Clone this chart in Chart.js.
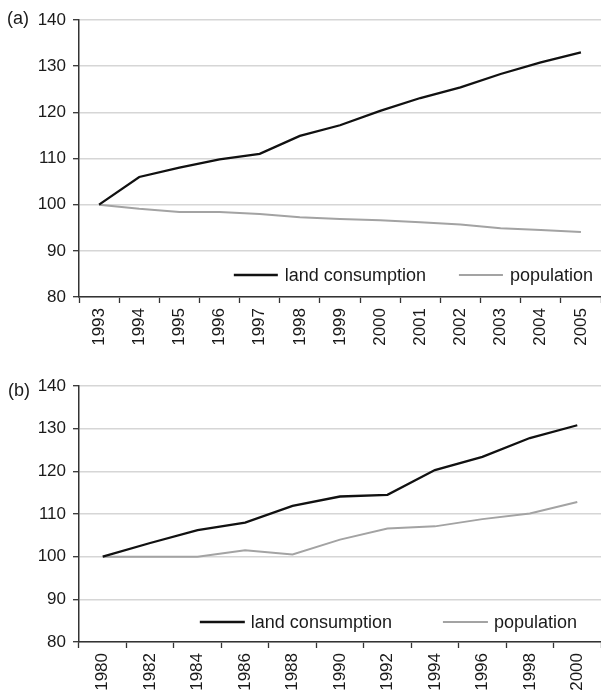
<!DOCTYPE html>
<html>
<head>
<meta charset="utf-8">
<script src="https://cdn.jsdelivr.net/npm/chart.js@4/dist/chart.umd.min.js"></script>
<style>
    html, body { margin: 0; padding: 0; background: #fff; }
    body { width: 601px; height: 695px; position: relative; overflow: hidden; font-family: 'Liberation Sans', Arial, sans-serif; }
    .panel { position: absolute; left: 0; width: 601px; height: 345px; }
    .tag { position: absolute; font-size: 18px; color: #1a1a1a; }
</style>
</head>
<body>
<div class="panel" style="top:0"><canvas id="chartA" width="601" height="345"></canvas></div>
<div class="panel" style="top:345px"><canvas id="chartB" width="601" height="345"></canvas></div>
<div class="tag" style="left:7px;top:8px">(a)</div>
<div class="tag" style="left:8px;top:380px">(b)</div>
<script>
// --- Data ---
const yearsA = ['1993', '1994', '1995', '1996', '1997', '1998', '1999', '2000', '2001', '2002', '2003', '2004', '2005'];
const landA = [100, 106, 108, 109.8, 111, 114.9, 117.2, 120.3, 123.1, 125.4, 128.3, 130.8, 133];
const popA = [100, 99.1, 98.4, 98.4, 98, 97.3, 96.9, 96.6, 96.2, 95.7, 94.9, 94.5, 94.1];

const yearsB = ['1980', '1982', '1984', '1986', '1988', '1990', '1992', '1994', '1996', '1998', '2000'];
const landB = [100, 103.2, 106.2, 108, 111.9, 114.1, 114.5, 120.3, 123.4, 127.8, 130.8];
const popB = [100, 100, 100, 101.5, 100.5, 104, 106.6, 107.1, 108.8, 110.1, 112.8];

const yTicks = { min: 80, max: 140, step: 10 };
const seriesNames = ['land consumption', 'population'];

const FONT = 'Liberation Sans';

// legend drawn inside the plot area, bottom right
const insideLegend = {
    id: 'insideLegend',
    afterDraw(chart, args, opts) {
        const ctx = chart.ctx;
        const area = chart.chartArea;
        ctx.save();
        ctx.font = '18px "' + FONT + '"';
        ctx.textBaseline = 'middle';
        const y = area.bottom - opts.bottomOffset;
        const items = chart.data.datasets.map(ds => ({
            ds, w: ctx.measureText(ds.label).width
        }));
        let total = 0;
        items.forEach((it, i) => {
            total += opts.lineLen + opts.textGap + it.w;
            if (i < items.length - 1) total += opts.itemGap;
        });
        let x = opts.right - total;
        items.forEach(it => {
            ctx.strokeStyle = it.ds.borderColor;
            ctx.lineWidth = it.ds.borderWidth;
            ctx.beginPath();
            ctx.moveTo(x, y);
            ctx.lineTo(x + opts.lineLen, y);
            ctx.stroke();
            x += opts.lineLen + opts.textGap;
            ctx.fillStyle = '#1a1a1a';
            ctx.textAlign = 'left';
            ctx.fillText(it.ds.label, x, y + 1);
            x += it.w + opts.itemGap;
        });
        ctx.restore();
    }
};

function makeChart(id, labels, land, pop, topPad, rightPad, legendOpts) {
    const ctx = document.getElementById(id).getContext('2d');
    return new Chart(ctx, {
        type: 'line',
        data: {
            labels: labels,
            datasets: [{
                label: seriesNames[0],
                data: land,
                borderColor: '#111111',
                borderWidth: 2.3,
                pointRadius: 0,
                tension: 0,
                fill: false
            }, {
                label: seriesNames[1],
                data: pop,
                borderColor: '#a3a3a3',
                borderWidth: 2,
                pointRadius: 0,
                tension: 0,
                fill: false
            }]
        },
        options: {
            responsive: false,
            animation: false,
            layout: { padding: { top: topPad, left: 0, right: rightPad, bottom: 0 } },
            plugins: {
                legend: { display: false },
                tooltip: { enabled: false },
                insideLegend: legendOpts
            },
            scales: {
                x: {
                    type: 'category',
                    offset: true,
                    grid: {
                        offset: true,
                        drawOnChartArea: false,
                        drawTicks: true,
                        tickLength: 6,
                        tickColor: '#333',
                        tickWidth: 1.3
                    },
                    border: { color: '#333', width: 1.5 },
                    ticks: {
                        minRotation: 90,
                        maxRotation: 90,
                        autoSkip: false,
                        padding: 5,
                        color: '#1a1a1a',
                        font: { family: FONT, size: 17 }
                    },
                    afterFit: (scale) => {
                        scale.height = 48;
                        scale.paddingLeft = 0;
                        scale.paddingRight = 0;
                    }
                },
                y: {
                    min: yTicks.min,
                    max: yTicks.max,
                    grid: {
                        color: '#d6d6d6',
                        lineWidth: 1.4,
                        tickLength: 6,
                        tickColor: '#333',
                        tickWidth: 1.3
                    },
                    border: { color: '#333', width: 1.5 },
                    ticks: {
                        stepSize: yTicks.step,
                        padding: 7,
                        color: '#1a1a1a',
                        font: { family: FONT, size: 17 }
                    },
                    afterFit: (scale) => {
                        scale.width = 79;
                        scale.paddingTop = 0;
                        scale.paddingBottom = 0;
                    }
                }
            }
        },
        plugins: [insideLegend]
    });
}

makeChart('chartA', yearsA, landA, popA, 20, -3,
    { right: 593, bottomOffset: 22, lineLen: 44, textGap: 7, itemGap: 33 });
makeChart('chartB', yearsB, landB, popB, 41, 0,
    { right: 577, bottomOffset: 20, lineLen: 45, textGap: 6, itemGap: 51 });
</script>
</body>
</html>
